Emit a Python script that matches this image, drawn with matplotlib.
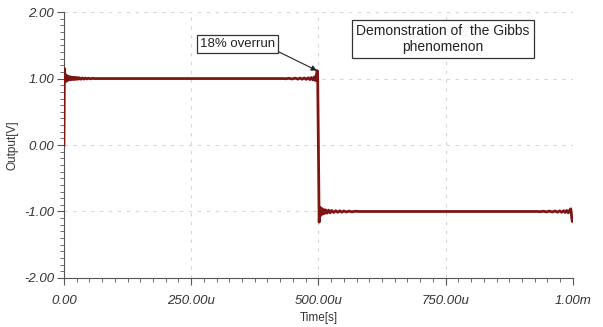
# Gibbs phenomenon: square wave output, 0 .. 1 ms

import numpy as np
import matplotlib.pyplot as plt
from matplotlib.ticker import AutoMinorLocator

LINE_COLOR = '#7f1414'
GRID_COLOR = '#d6d6d6'
AXIS_COLOR = '#555555'
TEXT_COLOR = '#333333'

plt.rcParams['font.family'] = ['Liberation Sans', 'DejaVu Sans']

# time in microseconds, output in volts
RISE_T = [0, 1, 2, 3.5, 5, 6.5, 8, 10, 12, 14, 16, 18, 20, 22, 24, 26, 28, 30,
          33, 36, 39, 42, 45, 48, 52, 56, 60]
RISE_V = [0.00, 1.15, 0.95, 1.06, 0.96, 1.04, 0.975, 1.03, 0.98, 1.025, 0.985,
          1.02, 0.985, 1.018, 0.988, 1.015, 0.99, 1.012, 0.99, 1.01, 0.992,
          1.008, 0.994, 1.006, 0.996, 1.004, 1.00]

FALL_PRE_T = [430, 436, 442, 448, 454, 460, 464, 468, 472, 476, 480, 483, 486,
              489, 492, 494, 496, 497.5, 498.5]
FALL_PRE_V = [1.00, 0.997, 1.004, 0.994, 1.006, 0.992, 1.008, 0.99, 1.01, 0.988,
              1.012, 0.985, 1.015, 0.98, 1.025, 0.97, 1.05, 1.12, 1.10]

FALL_POST_T = [500, 501.5, 503, 504.5, 506, 508, 510, 512, 514, 517, 520, 523,
               526, 530, 534, 538, 542, 546, 550, 555, 560, 566, 572, 580]
FALL_POST_V = [0.00, -1.16, -0.94, -1.06, -0.95, -1.04, -0.97, -1.03, -0.975,
               -1.025, -0.98, -1.02, -0.985, -1.015, -0.988, -1.012, -0.99,
               -1.01, -0.992, -1.008, -0.994, -1.006, -0.996, -1.00]

END_T = [930, 936, 942, 948, 954, 960, 965, 970, 974, 978, 982, 985, 988, 991,
         994, 996, 998, 999, 1000]
END_V = [-1.00, -1.003, -0.996, -1.006, -0.994, -1.008, -0.992, -1.01, -0.99,
         -1.012, -0.988, -1.015, -0.985, -1.02, -0.975, -0.96, -1.10, -1.15, -1.13]

X_TICKS = [0, 250, 500, 750, 1000]
X_LABELS = ['0.00', '250.00u', '500.00u', '750.00u', '1.00m']
Y_TICKS = [-2, -1, 0, 1, 2]
Y_LABELS = ['-2.00', '-1.00', '0.00', '1.00', '2.00']

t = np.concatenate([RISE_T, FALL_PRE_T, FALL_POST_T, END_T])
v = np.concatenate([RISE_V, FALL_PRE_V, FALL_POST_V, END_V])

fig = plt.figure(figsize=(6.03, 3.27), dpi=100)
ax = fig.add_axes([0.106, 0.150, 0.844, 0.813])

ax.plot(t, v, color=LINE_COLOR, lw=2.0, zorder=3)

ax.set_xlim(0, 1000)
ax.set_ylim(-2, 2)
ax.set_xticks(X_TICKS)
ax.set_xticklabels(X_LABELS)
ax.set_yticks(Y_TICKS)
ax.set_yticklabels(Y_LABELS)
ax.xaxis.set_minor_locator(AutoMinorLocator(10))
ax.yaxis.set_minor_locator(AutoMinorLocator(10))

for lbl in ax.get_xticklabels() + ax.get_yticklabels():
    lbl.set_style('italic')
    lbl.set_fontsize(9.5)
    lbl.set_color(TEXT_COLOR)

ax.tick_params(which='major', direction='out', length=5, width=0.8, color=AXIS_COLOR)
ax.tick_params(which='minor', direction='out', length=3, width=0.6, color=AXIS_COLOR)
ax.tick_params(axis='x', which='major', pad=7)
ax.tick_params(axis='y', which='major', pad=2)

ax.spines['top'].set_visible(False)
ax.spines['right'].set_visible(False)
ax.spines['left'].set_color(AXIS_COLOR)
ax.spines['bottom'].set_color(AXIS_COLOR)

ax.grid(which='major', linestyle=(0, (3, 5)), color=GRID_COLOR, lw=0.8)
ax.set_axisbelow(True)

ax.set_xlabel('Time[s]', fontsize=8.5, color=TEXT_COLOR, labelpad=4)
ax.set_ylabel('Output[V]', fontsize=8.5, color=TEXT_COLOR, labelpad=4)

ax.annotate(
    '18% overrun',
    xy=(497, 1.12),
    xytext=(341, 1.52),
    ha='center', va='center',
    fontsize=9.5, color='#222222',
    bbox=dict(boxstyle='square,pad=0.25', fc='white', ec='#333333', lw=0.9),
    arrowprops=dict(arrowstyle='-|>', color='#222222', lw=0.8,
                    mutation_scale=8, shrinkA=0, shrinkB=0, relpos=(1, 0)),
    zorder=5
)

ax.text(
    745, 1.60,
    'Demonstration of  the Gibbs\nphenomenon',
    ha='center', va='center', multialignment='center',
    fontsize=10, color='#222222', linespacing=1.15,
    bbox=dict(boxstyle='square,pad=0.3', fc='white', ec='#333333', lw=0.9),
    zorder=5
)

plt.savefig('out.png', dpi=100)
